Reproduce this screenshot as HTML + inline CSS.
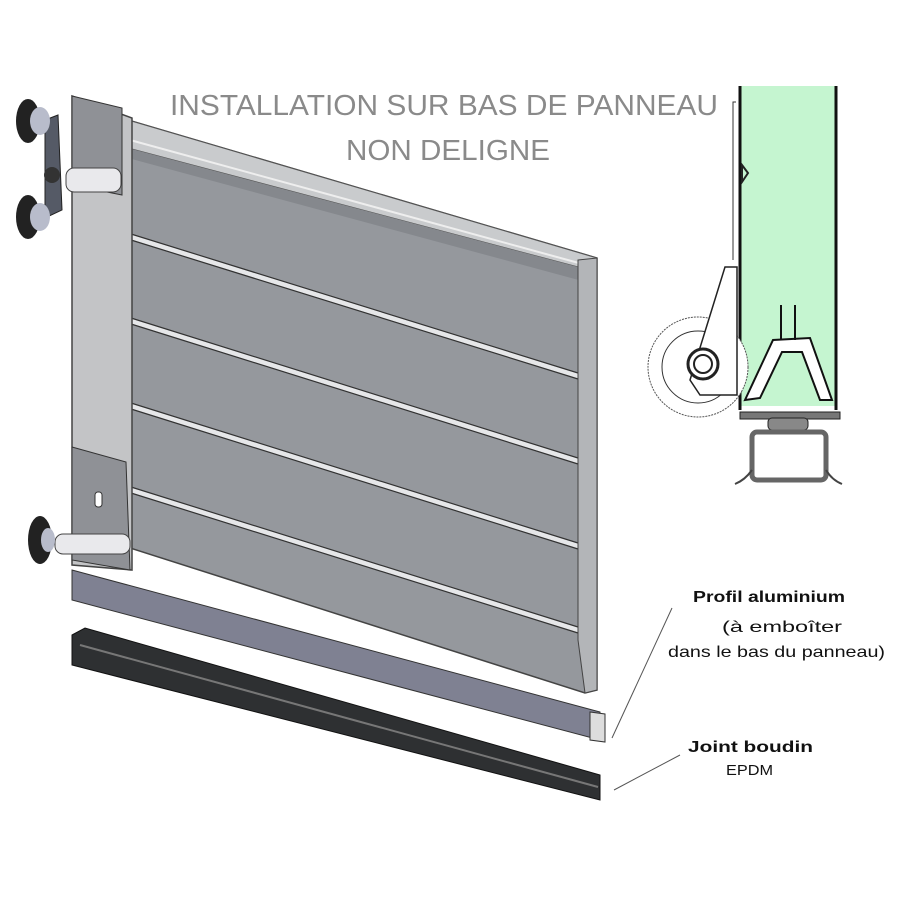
<!DOCTYPE html>
<html><head><meta charset="utf-8"><style>
body{margin:0;background:#fff}
svg{display:block}
text{font-family:"Liberation Sans",sans-serif}
</style></head><body>
<svg width="900" height="900" viewBox="0 0 900 900" xmlns="http://www.w3.org/2000/svg">
<rect width="900" height="900" fill="#fff"/>
<polygon points="128,120 597,258 597,690 585,693 130,548" fill="#95989d" stroke="#444" stroke-width="1.5"/>
<polygon points="128,120 597,258 597,272 128,148" fill="#c9cbcd" stroke="#555"/>
<polygon points="128,148 597,272 597,285 128,158" fill="#85888d"/>
<line x1="130" y1="140" x2="597" y2="268" stroke="#eee" stroke-width="2"/>
<g stroke-width="5" stroke="#e6e7e9">
<line x1="131" y1="237" x2="578" y2="376"/>
<line x1="131" y1="321" x2="578" y2="461"/>
<line x1="131" y1="406" x2="578" y2="546"/>
<line x1="131" y1="490" x2="578" y2="630"/>
</g>
<g stroke-width="1.2" stroke="#333">
<line x1="131" y1="234" x2="578" y2="373"/><line x1="131" y1="240" x2="578" y2="379"/>
<line x1="131" y1="318" x2="578" y2="458"/><line x1="131" y1="324" x2="578" y2="464"/>
<line x1="131" y1="403" x2="578" y2="543"/><line x1="131" y1="409" x2="578" y2="549"/>
<line x1="131" y1="487" x2="578" y2="627"/><line x1="131" y1="493" x2="578" y2="633"/>
</g>
<polygon points="578,260 597,258 597,690 585,693 578,640" fill="#b3b5b8" stroke="#444"/>
<polygon points="72,96 132,118 132,570 72,565" fill="#c3c4c6" stroke="#444" stroke-width="1.5"/>
<polygon points="72,96 122,108 122,195 72,185" fill="#8f9196" stroke="#333"/>
<rect x="66" y="168" width="55" height="24" rx="8" fill="#e9e9ec" stroke="#444"/>
<polygon points="45,120 58,115 62,210 45,218" fill="#555a66" stroke="#222"/>
<circle cx="52" cy="175" r="8" fill="#333"/>
<ellipse cx="28" cy="121" rx="12" ry="22" fill="#222"/><ellipse cx="40" cy="121" rx="10" ry="14" fill="#b8bccb"/>
<ellipse cx="28" cy="217" rx="12" ry="22" fill="#222"/><ellipse cx="40" cy="217" rx="10" ry="14" fill="#b8bccb"/>
<polygon points="72,447 126,462 130,570 72,560" fill="#8f9196" stroke="#333"/>
<rect x="95" y="492" width="7" height="15" rx="3" fill="#fff" stroke="#333"/>
<rect x="55" y="534" width="75" height="20" rx="8" fill="#e9e9ec" stroke="#444"/>
<ellipse cx="40" cy="540" rx="12" ry="24" fill="#222"/><ellipse cx="48" cy="540" rx="7" ry="12" fill="#b8bccb"/>
<polygon points="72,570 600,712 600,740 72,600" fill="#7f8192" stroke="#333"/>
<polygon points="590,712 605,714 605,742 590,740" fill="#ddd" stroke="#333"/>
<polygon points="72,635 85,628 600,775 600,800 72,665" fill="#2e3032" stroke="#111"/>
<line x1="80" y1="645" x2="598" y2="787" stroke="#777" stroke-width="2"/>
<text x="170" y="115" font-size="29" fill="#8a8a8a" textLength="548" lengthAdjust="spacingAndGlyphs">INSTALLATION SUR BAS DE PANNEAU</text>
<text x="346" y="160" font-size="29" fill="#8a8a8a" textLength="204" lengthAdjust="spacingAndGlyphs">NON DELIGNE</text>
<rect x="740" y="86" width="97" height="320" fill="#c5f5d0"/>
<line x1="740" y1="86" x2="740" y2="410" stroke="#111" stroke-width="3"/>
<line x1="836" y1="86" x2="836" y2="410" stroke="#111" stroke-width="3"/>
<polyline points="736,102 733,102 733,260" fill="none" stroke="#333"/>
<polygon points="742,165 748,173 742,182" fill="none" stroke="#222" stroke-width="2"/>
<circle cx="698" cy="367" r="50" fill="#fff" stroke="#555" stroke-dasharray="2,1"/>
<circle cx="698" cy="367" r="36" fill="#fff" stroke="#333"/>
<polygon points="725,267 737,267 737,395 700,395 690,380" fill="#fff" stroke="#222" stroke-width="1.5"/>
<circle cx="703" cy="364" r="15" fill="#fff" stroke="#222" stroke-width="3"/>
<circle cx="703" cy="364" r="9" fill="#fff" stroke="#222" stroke-width="2"/>
<polygon points="745,400 773,340 810,338 832,400 820,400 802,352 782,352 760,398" fill="#fff" stroke="#111" stroke-width="2"/>
<line x1="781" y1="305" x2="781" y2="340" stroke="#111" stroke-width="2"/>
<line x1="795" y1="305" x2="795" y2="340" stroke="#111" stroke-width="2"/>
<rect x="740" y="412" width="100" height="7" fill="#777" stroke="#222"/>
<rect x="768" y="418" width="40" height="12" rx="4" fill="#888" stroke="#222"/>
<rect x="752" y="432" width="74" height="48" rx="5" fill="#fff" stroke="#666" stroke-width="5"/>
<path d="M752,470 Q745,480 735,484 M826,470 Q832,480 842,484" fill="none" stroke="#444" stroke-width="2"/>
<text x="693" y="602" font-size="16" font-weight="bold" fill="#111" textLength="152" lengthAdjust="spacingAndGlyphs">Profil aluminium</text>
<text x="722" y="632" font-size="16" fill="#111" textLength="120" lengthAdjust="spacingAndGlyphs">(à emboîter</text>
<text x="668" y="657" font-size="16" fill="#111" textLength="217" lengthAdjust="spacingAndGlyphs">dans le bas du panneau)</text>
<text x="688" y="752" font-size="16" font-weight="bold" fill="#111" textLength="125" lengthAdjust="spacingAndGlyphs">Joint boudin</text>
<text x="726" y="775" font-size="15" fill="#111" textLength="47" lengthAdjust="spacingAndGlyphs">EPDM</text>
<line x1="672" y1="608" x2="612" y2="738" stroke="#555" stroke-width="1"/>
<line x1="680" y1="755" x2="614" y2="790" stroke="#555" stroke-width="1"/>
</svg>
</body></html>
